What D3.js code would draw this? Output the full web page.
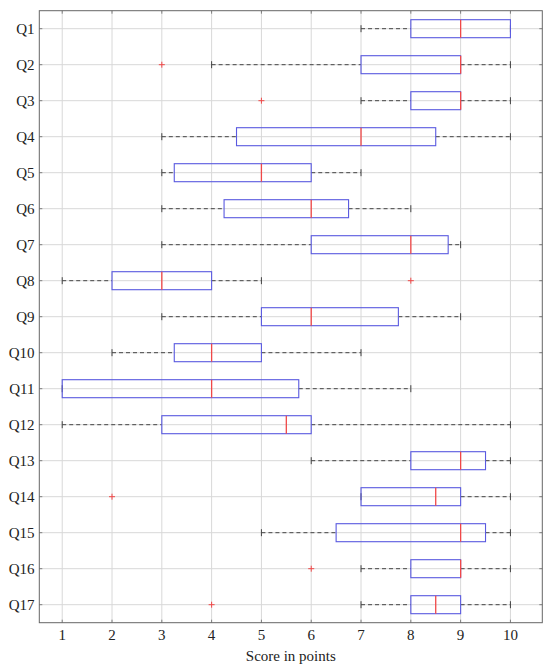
<!DOCTYPE html>
<html>
<head>
<meta charset="utf-8">
<script src="https://cdn.jsdelivr.net/npm/d3@7/dist/d3.min.js"></script>
<style>
  body { margin: 0; background: #fff; }
  svg { display: block; }
  text { font-family: "Liberation Serif", "DejaVu Serif", serif; fill: #222; }
</style>
</head>
<body>
<svg id="chart" width="550" height="669"></svg>
<script>
// ---- data ----
const questions = ["Q1","Q2","Q3","Q4","Q5","Q6","Q7","Q8","Q9","Q10","Q11","Q12","Q13","Q14","Q15","Q16","Q17"];
const lowerWhisker = [7, 4, 7, 3, 3, 3, 3, 1, 3, 2, 1, 1, 6, 7, 5, 7, 7];
const lowerQuartile = [8, 7, 8, 4.5, 3.25, 4.25, 6, 2, 5, 3.25, 1, 3, 8, 7, 6.5, 8, 8];
const medians = [9, 9, 9, 7, 5, 6, 8, 3, 6, 4, 4, 5.5, 9, 8.5, 9, 9, 8.5];
const upperQuartile = [10, 9, 9, 8.5, 6, 6.75, 8.75, 4, 7.75, 5, 5.75, 6, 9.5, 9, 9.5, 9, 9];
const upperWhisker = [10, 10, 10, 10, 7, 8, 9, 5, 9, 7, 8, 10, 10, 10, 10, 10, 10];
const outliers = [[], [3], [5], [], [], [], [], [8], [], [], [], [], [], [2], [], [6], [4]];
const xTicks = [1, 2, 3, 4, 5, 6, 7, 8, 9, 10];
const xLabel = "Score in points";

const rows = questions.map((q, i) => ({
  q, lw: lowerWhisker[i], q1: lowerQuartile[i], med: medians[i],
  q3: upperQuartile[i], uw: upperWhisker[i], out: outliers[i]
}));

// ---- layout ----
const L = 39.3, R = 542.3, T = 10.7, B = 622.7;
const svg = d3.select("#chart");
const x = d3.scaleLinear().domain([0.54, 10.64]).range([L, R]);
const y = d3.scaleBand().domain(questions).range([T, B]).padding(0);
const cy = q => y(q) + y.bandwidth() / 2;
const boxH = y.bandwidth() * 0.5;

const gridColor = "#d8d8d8";
const frameColor = "#666";
const boxColor = "#5a5ae0";
const medColor = "#f04848";
const whiskerColor = "#444";

// grid
const g = svg.append("g");
g.selectAll("line.vg").data(xTicks).join("line")
  .attr("x1", d => x(d)).attr("x2", d => x(d)).attr("y1", T).attr("y2", B)
  .attr("stroke", gridColor).attr("stroke-width", 1);
g.selectAll("line.hg").data(questions).join("line")
  .attr("x1", L).attr("x2", R).attr("y1", d => cy(d)).attr("y2", d => cy(d))
  .attr("stroke", gridColor).attr("stroke-width", 1);

// inward ticks
const tk = 3;
g.selectAll("line.tb").data(xTicks).join("line")
  .attr("x1", d => x(d)).attr("x2", d => x(d)).attr("y1", B).attr("y2", B - tk)
  .attr("stroke", frameColor).attr("stroke-width", 0.8);
g.selectAll("line.tt").data(xTicks).join("line")
  .attr("x1", d => x(d)).attr("x2", d => x(d)).attr("y1", T).attr("y2", T + tk)
  .attr("stroke", frameColor).attr("stroke-width", 0.8);
g.selectAll("line.tl").data(questions).join("line")
  .attr("x1", L).attr("x2", L + tk).attr("y1", d => cy(d)).attr("y2", d => cy(d))
  .attr("stroke", frameColor).attr("stroke-width", 0.8);
g.selectAll("line.tr").data(questions).join("line")
  .attr("x1", R).attr("x2", R - tk).attr("y1", d => cy(d)).attr("y2", d => cy(d))
  .attr("stroke", frameColor).attr("stroke-width", 0.8);

// boxes
const bx = svg.append("g");
const capH = 3.5;
rows.forEach(r => {
  const c = cy(r.q);
  // whiskers
  if (r.lw < r.q1) {
    bx.append("line").attr("x1", x(r.lw)).attr("x2", x(r.q1)).attr("y1", c).attr("y2", c)
      .attr("stroke", whiskerColor).attr("stroke-width", 1).attr("stroke-dasharray", "4,3");
  }
  bx.append("line").attr("x1", x(r.lw)).attr("x2", x(r.lw)).attr("y1", c - capH).attr("y2", c + capH)
    .attr("stroke", whiskerColor).attr("stroke-width", 1);
  if (r.uw > r.q3) {
    bx.append("line").attr("x1", x(r.q3)).attr("x2", x(r.uw)).attr("y1", c).attr("y2", c)
      .attr("stroke", whiskerColor).attr("stroke-width", 1).attr("stroke-dasharray", "4,3");
  }
  bx.append("line").attr("x1", x(r.uw)).attr("x2", x(r.uw)).attr("y1", c - capH).attr("y2", c + capH)
    .attr("stroke", whiskerColor).attr("stroke-width", 1);
  // box
  bx.append("rect").attr("x", x(r.q1)).attr("y", c - boxH / 2)
    .attr("width", x(r.q3) - x(r.q1)).attr("height", boxH)
    .attr("fill", "none").attr("stroke", boxColor).attr("stroke-width", 1.1);
  // median
  bx.append("line").attr("x1", x(r.med)).attr("x2", x(r.med)).attr("y1", c - boxH / 2).attr("y2", c + boxH / 2)
    .attr("stroke", medColor).attr("stroke-width", 1.3);
  // outliers
  r.out.forEach(o => {
    const s = 3;
    bx.append("path")
      .attr("d", `M${x(o) - s},${c}H${x(o) + s}M${x(o)},${c - s}V${c + s}`)
      .attr("stroke", medColor).attr("stroke-width", 1).attr("fill", "none");
  });
});

// frame
svg.append("rect").attr("x", L).attr("y", T).attr("width", R - L).attr("height", B - T)
  .attr("fill", "none").attr("stroke", frameColor).attr("stroke-width", 1);

// labels
svg.append("g").selectAll("text").data(xTicks).join("text")
  .attr("x", d => x(d)).attr("y", 639.5).attr("text-anchor", "middle")
  .attr("font-size", 15).text(d => d);
svg.append("g").selectAll("text").data(questions).join("text")
  .attr("x", 34.5).attr("y", d => cy(d) + 5).attr("text-anchor", "end")
  .attr("font-size", 15).text(d => d);
svg.append("text").attr("x", (L + R) / 2).attr("y", 661).attr("text-anchor", "middle")
  .attr("font-size", 15).text(xLabel);
</script>
</body>
</html>
